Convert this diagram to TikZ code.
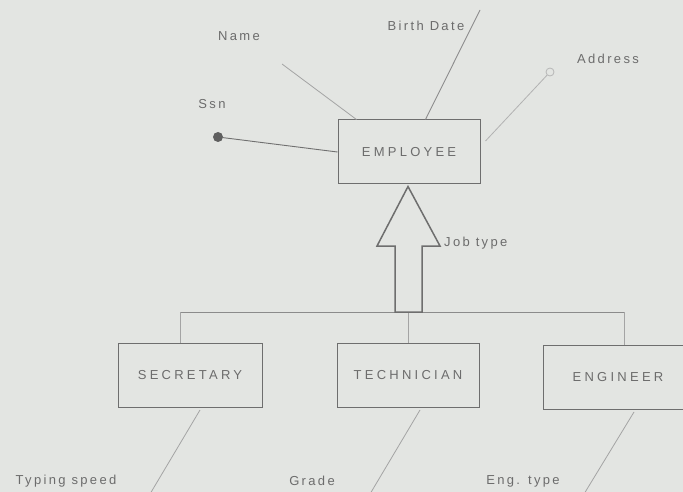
\documentclass[tikz,border=0pt]{standalone}
\usepackage{fontspec}
\usetikzlibrary{calc}
\newfontfamily\capfont[LetterSpace=25]{Liberation Sans}
\newfontfamily\labfont[LetterSpace=18]{Liberation Sans}
\definecolor{bg}{HTML}{E3E5E2}
\definecolor{ink}{HTML}{6C6C6C}
\definecolor{boxline}{HTML}{6E6E6E}
\definecolor{attrline}{HTML}{A4A4A4}
\definecolor{darkline}{HTML}{707070}
\begin{document}
\begin{tikzpicture}[x=1pt,y=-1pt,
  entity/.style={draw=boxline, line width=1pt, minimum width=142pt, minimum height=64pt,
    inner sep=0pt, text=ink, font=\capfont\fontsize{13}{15}\selectfont},
  attr/.style={text=ink, font=\labfont\fontsize{13}{15}\selectfont, inner sep=1pt},
  aline/.style={draw=attrline, line width=0.8pt},
  dline/.style={draw=darkline, line width=0.9pt},
  isa/.style={draw=boxline, line width=1.5pt, fill=bg, line join=miter},
  bar/.style={draw=boxline!80, line width=1pt}]
\fill[bg] (0,0) rectangle (683,492);
\useasboundingbox (0,0) rectangle (683,492);

% entities
\node[entity] (emp) at (409,152) {EMPLOYEE};
\node[entity, minimum width=144pt] (sec) at (190,375) {SECRETARY};
\node[entity] (tec) at (408,375) {TECHNICIAN};
\node[entity, minimum width=150pt] (eng) at (618,377) {ENGINEER};

% attribute labels
\node[attr] (name) at (239,36) {Name};
\node[attr] (birth) at (426,26) {Birth Date};
\node[attr] (addr) at (608,59) {Address};
\node[attr] (ssn) at (212,104) {Ssn};
\node[attr] (typing) at (66,481) {Typing speed};
\node[attr] (grade) at (312,481) {Grade};
\node[attr] (engtype) at (523,481) {Eng. type};
\node[attr, anchor=west] (jobtype) at (443,243) {Job type};

% attribute markers
\node[circle, fill=darkline!85!black, inner sep=0pt, minimum size=10pt] (ssndot) at (218,137) {};
\node[circle, draw=attrline!80, line width=0.8pt, inner sep=0pt, minimum size=8pt] (addrcirc) at (550,72) {};
\coordinate (nameend) at (282,64);
\coordinate (birthend) at (480,10);

% attribute connectors
\draw[dline] (ssndot) -- (emp.west);
\draw[aline] (nameend) -- ($(emp.north west)+(19,0)$);
\draw[dline, draw=darkline!80] (birthend) -- ($(emp.north west)+(88,0)$);
\draw[aline, draw=attrline!85] (addrcirc) -- ($(emp.east)+(5,-11)$);

% subclass attribute connectors
\coordinate (t1) at (200,410); \coordinate (t2) at (150,494);
\coordinate (g1) at (420,410); \coordinate (g2) at (370,494);
\coordinate (e1) at (634,412); \coordinate (e2) at (584,494);
\draw[aline] (t1) -- (t2);
\draw[aline] (g1) -- (g2);
\draw[aline] (e1) -- (e2);

% specialisation bar
\coordinate (b1) at (180,312);
\coordinate (b2) at (408,312);
\coordinate (b3) at (624,312);
\draw[bar] (b1) -- (b3);
\draw[bar, draw=attrline] (b1) -- (b1 |- sec.north);
\draw[bar, draw=attrline] (b2) -- (b2 |- tec.north);
\draw[bar, draw=attrline] (b3) -- (b3 |- eng.north);

% ISA arrow
\draw[isa] (emp.south) ++(-1,2) -- (440,246) -- (422,246) -- (422,312) -- (395,312)
  -- (395,246) -- (377,246) -- cycle;
\end{tikzpicture}
\end{document}
